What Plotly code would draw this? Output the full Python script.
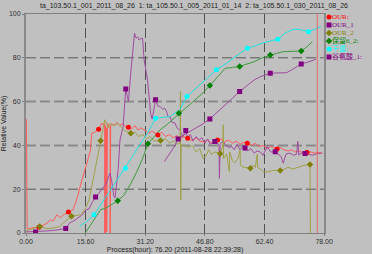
import plotly.graph_objects as go

# ---------------- data ----------------
title_text = "ta_103.50.1_001_2011_08_26  1: ta_105.50.1_005_2011_01_14  2: ta_105.50.1_030_2011_08_26"
x_title = "Process(hour): 76.20 (2011-08-28 22:39:28)"
y_title = "Relative Value(%)"
current_hour = 76.20
x_ticks = [0, 15.6, 31.2, 46.8, 62.4, 78.0]
y_ticks = [0, 20, 40, 60, 80, 100]
grid_light = [20, 80]
grid_strong = [40, 60]

series_names = ["OUR:", "OUR_1", "OUR_2", "保留6_2:", "干重:", "谷氨酸_1:"]
marker_colors = ["#ff0000", "#800080", "#808000", "#008000", "#00ffff", "#800080"]
line_colors = ["#ff5a5a", "#a04aa0", "#a0a048", "#3c9a3c", "#20e0e0", "#a04aa0"]
marker_symbols = ["circle", "square", "diamond", "diamond", "circle", "square"]
marker_sizes = [5, 5, 5, 5, 5, 5]

# OUR (red)
our_x = [0.1, 0.12, 0.3, 1, 2, 3.4, 4.5, 5.5, 6.4, 7.2, 8, 9, 10, 11.1, 12.3, 13, 13.5, 14.4, 15.1,
         15.7, 16.3, 16.8, 17.2, 18, 19, 19.9, 20.3, 20.6, 20.62, 20.75, 20.77, 21.1, 21.12, 21.3,
         22.0, 22.02, 22.15, 22.5, 23, 23.8, 24.5, 25.3, 26, 26.8, 27.6, 28.5, 29.3, 30, 31, 32,
         33, 34.5, 35.5, 36.5, 37.5, 38.5, 39.5, 40.5, 41.3, 42.3, 43.5, 44.5, 45.5, 46.5, 47.5,
         48.5, 50.1, 51, 52, 53, 54, 55, 56, 57, 57.9, 59, 60, 61, 62, 63, 64, 65.7, 66.5, 67.5,
         68.5, 69.5, 70.5, 71.5, 72.5, 73.5, 74.5, 75.5, 76.5, 77.5]
our_y = [52, 2, 2, 2, 2.5, 2.6, 3.5, 4.5, 6, 5.5, 8.3, 7, 8.5, 9.6, 10.6, 14, 16.7, 22.8, 27,
         30.4, 34, 37.2, 45.6, 46, 47.4, 50.2, 49, 50, 0, 49, 0, 48, 0.5, 50,
         48, 0, 49, 50, 49, 50.5, 49, 50, 48.5, 48.3, 47.5, 49, 47, 48, 47, 45.5,
         46.5, 44.8, 46, 44, 45, 43.5, 44.5, 43, 44, 43.3, 42, 43.5, 42, 41.5, 42.5,
         41, 42.5, 43, 41.5, 42.5, 41, 42, 40.5, 41.5, 41, 40, 41, 39.5, 40, 38.5, 39.5, 38.3, 39, 38,
         37.5, 38, 37, 37.5, 36.5, 36.9, 37, 36.5, 36.8, 36.5]
our_mx = [3.4, 11.1, 19.0, 26.8, 34.5, 42.3, 50.1, 57.9, 65.7, 73.5]
our_my = [2.6, 9.6, 47.4, 48.3, 44.8, 43.3, 42.5, 41.0, 38.3, 36.9]

# OUR_1 (purple, big peak)
our1_x = [0, 1.5, 2.5, 4, 6, 7.2, 9, 10.4, 11.4, 12.5, 13.5, 14.5, 15.7, 16.5, 17.3, 18.2, 19,
          19.8, 20.8, 21.5, 22, 22.4, 23, 23.3, 24.1, 24.6, 25.4, 26.1, 26.5, 26.8, 27.5, 28.4,
          28.8, 29.2, 29.6, 30.1, 30.5, 30.9, 31.8, 32.2, 32.6, 33, 33.4, 33.9, 34.5, 35.1, 35.8,
          36.3, 36.8, 37.2, 37.7, 38.2, 39, 39.5, 40.2, 41, 41.8, 42.3, 43, 43.7, 44.5, 45.3, 46,
          46.8, 47.5, 48.2, 49.4, 50.1, 50.5, 50.6, 50.8, 51.5, 52.3, 53, 53.8, 54.5, 55.2, 56,
          56.7, 57.3, 58, 58.8, 59.7, 60.5, 61.3, 62, 63.1, 64, 65.2, 66, 66.7, 67.3, 68, 69, 70,
          70.8, 71.1, 71.4, 72, 73, 74, 75, 76, 77.5]
our1_y = [0.5, 0.6, 0.5, 0.8, 1, 1.2, 1.5, 2, 4.6, 5.5, 6.8, 8, 10.6, 11, 14, 16.4, 18,
          20, 22, 25, 27.4, 24, 16.7, 16, 28.9, 42.5, 48.6, 65.8, 62, 60, 75, 91.2,
          89, 89.6, 88.1, 88.8, 88.9, 79, 69.9, 62, 54.7, 52, 56, 60.8, 58, 57.7, 56.5,
          57, 55.4, 53, 53.2, 50.5, 50.2, 48, 47.1, 44, 46.8, 43.3, 45, 42, 44, 42.5, 43.5,
          41, 43, 40.5, 41.8, 41, 40, 25, 40.5, 42, 40, 39, 39.5, 38, 40.5, 38,
          39.5, 38.8, 37.5, 38.5, 36.5, 37.5, 37, 35.5, 39.5, 37, 37.1, 36, 35, 31.9, 36, 36.5, 35.5,
          36, 41.8, 35.5, 36.5, 36.3, 36, 35.5, 36.2, 36.5]
our1_mx = [2.5, 10.4, 18.2, 26.1, 33.9, 41.8, 49.4, 57.3, 65.2, 73.0]
our1_my = [0.5, 2.0, 16.4, 65.8, 60.8, 46.8, 41.8, 38.8, 37.1, 36.3]

# OUR_2 (olive)
our2_x = [0, 1, 2, 3.6, 4.5, 5.5, 7.2, 8.9, 10, 11.9, 13, 14.4, 15.5, 16.5, 17.3, 18.2, 19.5,
          20.2, 20.6, 21.1, 21.5, 22, 23, 24, 25, 26, 27.4, 28.5, 29.5, 30.5, 31.5, 32.5, 33.5,
          35.2, 36.5, 37.5, 38.5, 39.5, 40.3, 40.4, 40.5, 40.6, 41.3, 42.5, 43.5, 44.5, 45.5,
          46.3, 47, 47.8, 48.5, 49.5, 50.8, 51.5, 51.6, 51.7, 52.5, 53.2, 53.3, 54, 54.6, 55.5,
          56, 56.1, 57, 58.7, 59.5, 60, 60.5, 60.6, 61.5, 62.2, 63.5, 64.5, 65.5, 66.5, 67.5,
          68.5, 69.9, 71, 72, 73, 74.3, 74.4]
our2_y = [1, 1.5, 2, 3, 2.5, 2, 2.3, 3, 5, 7.6, 8, 8.3, 11, 15.2, 22, 30.4, 42.1,
          48, 51.7, 50, 48, 50, 49, 50, 48, 46.5, 45.6, 46, 44, 45, 43, 44, 42,
          42.2, 43, 41, 42, 40.5, 41, 64.6, 15.2, 40, 40, 39, 40, 37, 38.5,
          34, 35, 38, 36, 37, 36.2, 40, 49.4, 34, 36, 28, 37, 33, 32, 34,
          38, 31, 30, 29.6, 31, 30, 36, 30, 29, 27.8, 28, 28.5, 28.6, 28.5, 29,
          30, 29.2, 30, 30.5, 31, 31.3, 0]
our2_mx = [3.6, 11.9, 19.5, 27.4, 35.2, 50.8, 58.7, 66.5, 74.3]
our2_my = [3.0, 7.6, 42.1, 45.6, 42.2, 36.2, 29.6, 28.5, 31.3]

# 保留6_2 (green)
keep_x = [15.5, 17, 18.5, 19.5, 21, 22.5, 24, 25.5, 27.5, 29, 30.5, 31.9, 33.5, 35, 36.8, 38.5,
          40, 42, 44, 46, 48.1, 50, 52.1, 54, 55.9, 57.5, 59.7, 61.8, 63.9, 65.5, 67.3, 69.5,
          72, 73.5, 74.9]
keep_y = [0, 4, 8, 10.6, 11.5, 13, 14.7, 17, 22.8, 28, 34, 40.7, 44, 47, 49.4, 52,
          54.7, 57.5, 60.5, 63.5, 67.3, 71, 75.2, 75.6, 76, 77, 78.2, 80, 81.3, 82, 82.8, 83,
          83.1, 85, 87.4]
keep_mx = [24.0, 31.9, 40.0, 48.1, 55.9, 63.9, 72.0]
keep_my = [14.7, 40.7, 54.7, 67.3, 76.0, 81.3, 83.1]

# 干重 (cyan)
dry_x = [14.0, 16, 17.8, 20, 21.5, 23.3, 26, 27.5, 29.2, 30.5, 31.8, 33.9, 35.5, 37.7, 39.4, 40.2,
         42.1, 44.5, 47, 49.8, 52, 54, 55.5, 57.9, 60, 62.2, 65.9, 68, 69.9, 71.5, 73.9, 75.5, 77.1]
dry_y = [3, 5.5, 8.3, 14, 18, 23, 29.6, 34, 38.8, 42, 45.6, 52.4, 52.7, 53.2, 55.4, 56.2,
         62.3, 66.1, 70.5, 74.5, 77, 79.5, 81.5, 84.4, 85.5, 86.9, 88.5, 91.5, 93, 93, 91.9, 93, 94.2]
dry_mx = [17.8, 26.0, 33.9, 42.1, 49.8, 57.9, 65.9, 73.9]
dry_my = [8.3, 29.6, 52.4, 62.3, 74.5, 84.4, 88.5, 91.9]

# 谷氨酸_1 (purple, rising)
glu_x = [36.2, 37.5, 39, 39.8, 41, 42.5, 44, 46, 48.1, 50, 52, 54, 55.9, 57.5, 59.7, 61.5, 63.9,
         66, 68.2, 70, 72, 74, 75.8]
glu_y = [32.6, 36, 40, 42.9, 44.5, 46, 47.5, 49.5, 52.1, 55, 58.5, 61.5, 64.6, 67, 69.9, 71.5,
         73.0, 73.1, 73.2, 75, 77.2, 78.2, 79.3]
glu_mx = [39.8, 48.1, 55.9, 63.9, 72.0]
glu_my = [42.9, 52.1, 64.6, 73.0, 77.2]

lines = [(our_x, our_y), (our1_x, our1_y), (our2_x, our2_y), (keep_x, keep_y), (dry_x, dry_y), (glu_x, glu_y)]
marks = [(our_mx, our_my), (our1_mx, our1_my), (our2_mx, our2_my), (keep_mx, keep_my), (dry_mx, dry_my), (glu_mx, glu_my)]

# ---------------- figure ----------------
BG = "#c0c0c0"
W, H = 372, 254
ML, MT, MB = 25, 14, 21
plot_right = 332
inner_w = W - ML
main_dom = (plot_right - ML) / inner_w
leg_dom0 = (333 - ML) / inner_w

fig = go.Figure()

for i, (lx, ly) in enumerate(lines):
    fig.add_trace(go.Scatter(x=lx, y=ly, mode="lines",
                             line=dict(color=line_colors[i], width=1),
                             showlegend=False, hoverinfo="skip"))
for i, (mx, my) in enumerate(marks):
    fig.add_trace(go.Scatter(x=mx, y=my, mode="markers",
                             marker=dict(color=marker_colors[i], size=marker_sizes[i],
                                         symbol=marker_symbols[i], line=dict(width=0)),
                             showlegend=False, hoverinfo="skip"))

# legend drawn on an overlay axis
rows = list(range(len(series_names)))
fig.add_trace(go.Scatter(x=[4] * len(rows), y=rows, mode="markers", xaxis="x2", yaxis="y2",
                         marker=dict(color=marker_colors, size=5, symbol=marker_symbols, line=dict(width=0)),
                         showlegend=False, hoverinfo="skip"))
fig.add_trace(go.Scatter(x=[7] * len(rows), y=rows, mode="text", xaxis="x2", yaxis="y2",
                         text=series_names, textposition="middle right",
                         textfont=dict(color=marker_colors, size=7,
                                       family="Liberation Serif, Noto Sans CJK SC"),
                         showlegend=False, hoverinfo="skip"))

for g in grid_light:
    fig.add_shape(type="line", xref="x", yref="y", x0=0, x1=78, y0=g, y1=g, layer="below",
                  line=dict(color="#585858", width=1, dash="10px,4px"))
for g in grid_strong:
    fig.add_shape(type="line", xref="x", yref="y", x0=0, x1=78, y0=g, y1=g, layer="below",
                  line=dict(color="#8a8a8a", width=2, dash="10px,4px"))

fig.add_vline(x=current_hour, line=dict(color="#e06868", width=1))

tick_font = dict(family="Liberation Sans, Arial", size=7, color="#303030")
fig.update_layout(
    width=W, height=H,
    margin=dict(l=ML, r=0, t=MT, b=MB, pad=0),
    paper_bgcolor=BG, plot_bgcolor=BG,
    showlegend=False,
    xaxis=dict(domain=[0, main_dom], range=[0, 78], tickvals=x_ticks,
               ticktext=[f"{v:.2f}" for v in x_ticks], tickfont=tick_font,
               showgrid=True, gridcolor="#505050", gridwidth=1, griddash="10px,4px",
               zeroline=False, showline=True, linecolor="#808080", linewidth=1, mirror=True,
               ticks="outside", ticklen=2, tickcolor="#808080",
               title=dict(text=x_title, font=dict(family="Liberation Sans, Arial", size=7, color="#202020"),
                          standoff=2)),
    yaxis=dict(range=[0, 100], tickvals=y_ticks, tickfont=tick_font, showgrid=False,
               zeroline=False, showline=True, linecolor="#8a8a8a", linewidth=2, mirror=True,
               ticks="outside", ticklen=2, tickcolor="#808080",
               title=dict(text=y_title, font=dict(family="Liberation Sans, Arial", size=7, color="#202020"),
                          standoff=4)),
    xaxis2=dict(domain=[leg_dom0, 1], range=[0, W - 333], visible=False, anchor="y2", fixedrange=True),
    yaxis2=dict(domain=[0, 1], range=[(H - MB - 17) / 8, -(17 - MT) / 8], visible=False, anchor="x2", fixedrange=True),
    annotations=[dict(text=title_text, xref="paper", yref="paper", x=(198 - ML) / inner_w, y=1,
                      yshift=8, xanchor="center", yanchor="middle", showarrow=False,
                      font=dict(family="Liberation Sans, Arial", size=7, color="#202020"))],
)

fig.write_html("out.html")
